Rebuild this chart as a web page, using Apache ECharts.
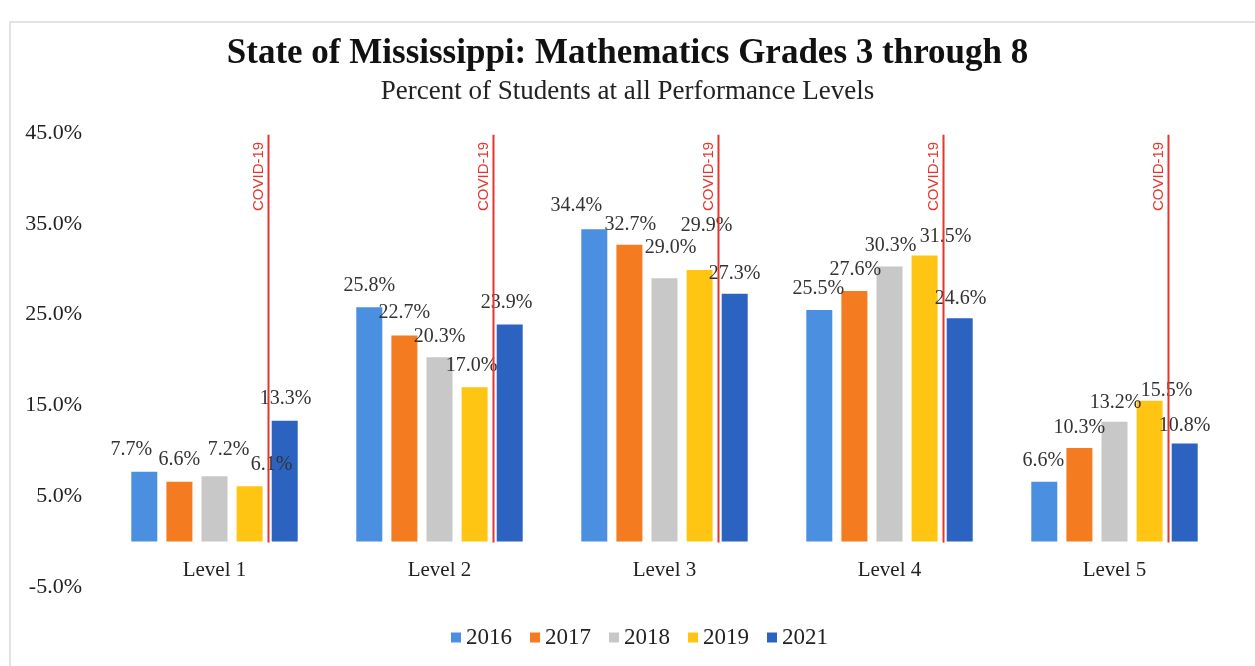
<!DOCTYPE html>
<html>
<head>
<meta charset="utf-8">
<script src="https://cdn.jsdelivr.net/npm/echarts@6/dist/echarts.min.js"></script>
<style>
  html, body { margin: 0; padding: 0; background: #fff; }
  #main { width: 1255px; height: 666px; }
</style>
</head>
<body>
<div id="main"></div>
<script>
    var myChart = echarts.init(document.getElementById('main'));

    // categories and years
    var levels = ['Level 1', 'Level 2', 'Level 3', 'Level 4', 'Level 5'];
    var years = ['2016', '2017', '2018', '2019', '2021'];

    // percent of students per level, one list per year
    var y2016 = [7.7, 25.8, 34.4, 25.5, 6.6];
    var y2017 = [6.6, 22.7, 32.7, 27.6, 10.3];
    var y2018 = [7.2, 20.3, 29.0, 30.3, 13.2];
    var y2019 = [6.1, 17.0, 29.9, 31.5, 15.5];
    var y2021 = [13.3, 23.9, 27.3, 24.6, 10.8];

    // y axis ticks
    var yMin = -5, yMax = 45, yStep = 10;

    // covid marker reaches up to this value
    var covidTop = 44.8;

    var colors = ['#4A8FE0', '#F47B20', '#C8C8C8', '#FFC512', '#2C62C0'];

    // hand-placed label nudges (dx, dy) in the original chart
    var labelNudge = [
      [[-13,-1], [0,-1], [-18,-2], [-1,0], [-1,0]],
      [[0,-1], [0,-2], [1,1], [1,0], [0,1]],
      [[14,-5], [0,0], [6,-10], [1,0], [1,2]],
      [[22,0], [-3,0], [7,-23], [21,2], [17,11]],
      [[1,-1], [-3,-1], [0,1], [1,2], [0,3]]
    ];

    var serif = '"Liberation Serif", "Times New Roman", serif';
    var allYears = [y2016, y2017, y2018, y2019, y2021];

    var series = years.map(function (yr, s) {
        return {
            name: yr,
            type: 'bar',
            barWidth: 26,
            barGap: '35%',
            itemStyle: { color: colors[s] },
            label: {
                show: true,
                position: 'top',
                distance: 11,
                color: '#333',
                fontFamily: serif,
                fontSize: 20,
                formatter: function (p) { return p.value.toFixed(1) + '%'; }
            },
            data: allYears[s].map(function (v, i) {
                return { value: v, label: { offset: labelNudge[s][i] } };
            })
        };
    });

    series.push({
        type: 'custom',
        name: 'covid',
        silent: true,
        z: 5,
        data: levels.map(function (c, i) { return [i, covidTop]; }),
        renderItem: function (params, api) {
            var i = api.value(0);
            var top = api.coord([i, api.value(1)]);
            var base = api.coord([i, 0]);
            var band = api.size([1, 0])[0];
            var x = top[0] + band * 0.24;
            return {
                type: 'group',
                children: [{
                    type: 'line',
                    shape: { x1: x, y1: top[1], x2: x, y2: base[1] + 1 },
                    style: { stroke: '#E5352E', lineWidth: 2 }
                }, {
                    type: 'text',
                    x: x - 2,
                    y: top[1] + 7,
                    rotation: Math.PI / 2,
                    style: {
                        text: 'COVID-19',
                        fill: '#E5352E',
                        font: '15px "Liberation Sans", Arial, sans-serif',
                        align: 'right',
                        verticalAlign: 'bottom'
                    }
                }]
            };
        }
    });

    option = {
        backgroundColor: '#fff',
        animation: false,
        title: [{
            text: 'State of Mississippi: Mathematics Grades 3 through 8',
            left: 'center',
            top: 31,
            textStyle: { fontFamily: serif, fontSize: 35, fontWeight: 'bold', color: '#111' }
        }, {
            text: 'Percent of Students at all Performance Levels',
            left: 'center',
            top: 73,
            textStyle: { fontFamily: serif, fontSize: 27, fontWeight: 'normal', color: '#222' }
        }],
        legend: {
            data: years,
            left: 446,
            top: 621,
            itemWidth: 10,
            itemHeight: 10,
            itemGap: 18,
            icon: 'rect',
            textStyle: { fontFamily: serif, fontSize: 23, color: '#222' }
        },
        grid: {
            left: 102,
            right: 28,
            top: 133,
            bottom: 79,
            containLabel: false
        },
        xAxis: {
            type: 'category',
            data: levels,
            axisLine: { show: false },
            axisTick: { show: false },
            // labels sit just under the zero line, inside the plot
            axisLabel: { fontFamily: serif, fontSize: 21, color: '#222', margin: -27 }
        },
        yAxis: {
            type: 'value',
            min: yMin,
            max: yMax,
            interval: yStep,
            axisLine: { show: false },
            axisTick: { show: false },
            splitLine: { show: false },
            axisLabel: {
                fontFamily: serif,
                fontSize: 22,
                color: '#222',
                margin: 20,
                formatter: function (v) { return v.toFixed(1) + '%'; }
            }
        },
        graphic: [{
            type: 'rect',
            shape: { x: 10, y: 22, width: 1260, height: 700 },
            style: { fill: 'none', stroke: '#e2e2e2', lineWidth: 2 },
            silent: true
        }],
        series: series
    };

    myChart.setOption(option);
</script>
</body>
</html>
